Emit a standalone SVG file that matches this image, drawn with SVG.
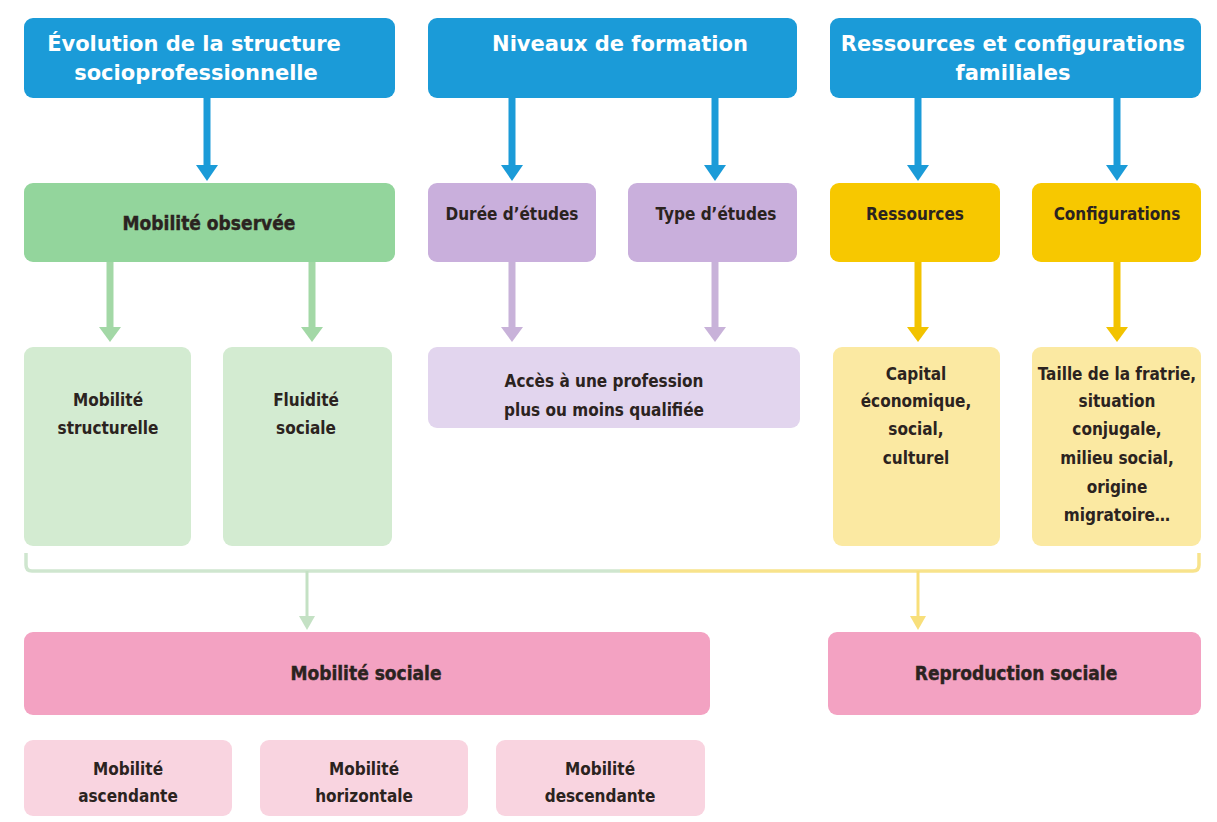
<svg xmlns="http://www.w3.org/2000/svg" width="1217" height="822" viewBox="0 0 1217 822">
<defs>
<style>
.t{font-family:"DejaVu Sans Condensed","DejaVu Sans","Liberation Sans",sans-serif;fill:#2b2320;text-anchor:middle;font-size:17px;font-weight:bold}
.b{font-size:19px;stroke:#2b2320;stroke-width:0.4}
.w{font-family:"DejaVu Sans","Liberation Sans",sans-serif;fill:#ffffff;font-weight:bold;font-size:21px;text-anchor:middle}
.blue{fill:#1b9bd8}
.g1{fill:#93d59c}
.g2{fill:#d3ebd1}
.p1{fill:#c9afdc}
.p2{fill:#e2d5ee}
.y1{fill:#f7c800}
.y2{fill:#fbe9a2}
.k1{fill:#f3a2c2}
.k2{fill:#f9d4e0}
</style>
</defs>

<g id="connectors">
  <!-- blue arrows -->
  <g stroke="#1b9bd8" stroke-width="7" fill="none">
    <line x1="207" y1="98" x2="207" y2="168"/>
    <line x1="512" y1="98" x2="512" y2="168"/>
    <line x1="715" y1="98" x2="715" y2="168"/>
    <line x1="918" y1="98" x2="918" y2="168"/>
    <line x1="1117" y1="98" x2="1117" y2="168"/>
  </g>
  <g fill="#1b9bd8">
    <polygon points="196,165 218,165 207,181"/>
    <polygon points="501,165 523,165 512,181"/>
    <polygon points="704,165 726,165 715,181"/>
    <polygon points="907,165 929,165 918,181"/>
    <polygon points="1106,165 1128,165 1117,181"/>
  </g>
  <!-- green arrows -->
  <g stroke="#a3d8a6" stroke-width="7">
    <line x1="110" y1="262" x2="110" y2="330"/>
    <line x1="312" y1="262" x2="312" y2="330"/>
  </g>
  <g fill="#a3d8a6">
    <polygon points="99,327 121,327 110,342"/>
    <polygon points="301,327 323,327 312,342"/>
  </g>
  <!-- purple arrows -->
  <g stroke="#c8b2d9" stroke-width="7">
    <line x1="512" y1="262" x2="512" y2="330"/>
    <line x1="715" y1="262" x2="715" y2="330"/>
  </g>
  <g fill="#c8b2d9">
    <polygon points="501,327 523,327 512,342"/>
    <polygon points="704,327 726,327 715,342"/>
  </g>
  <!-- yellow arrows -->
  <g stroke="#f2c300" stroke-width="7">
    <line x1="918" y1="262" x2="918" y2="330"/>
    <line x1="1117" y1="262" x2="1117" y2="330"/>
  </g>
  <g fill="#f2c300">
    <polygon points="907,327 929,327 918,342"/>
    <polygon points="1106,327 1128,327 1117,342"/>
  </g>
  <!-- bracket -->
  <path d="M26,553 L26,565 Q26,571 32,571 L620,571" stroke="#cfe6cf" stroke-width="3.5" fill="none"/>
  <path d="M620,571 L1193,571 Q1199,571 1199,565 L1199,553" stroke="#f8e38c" stroke-width="3.5" fill="none"/>
  <line x1="307" y1="571" x2="307" y2="620" stroke="#c4e1c4" stroke-width="3"/>
  <polygon points="299,616 315,616 307,630" fill="#c4e1c4"/>
  <line x1="918" y1="571" x2="918" y2="620" stroke="#f8df7a" stroke-width="3"/>
  <polygon points="910,616 926,616 918,630" fill="#f8df7a"/>
</g>

<g id="n-evolution">
  <rect class="blue" x="24" y="18" width="371" height="80" rx="9"/>
  <text class="w" x="194" y="51">Évolution de la structure</text>
  <text class="w" x="196" y="80">socioprofessionnelle</text>
</g>
<g id="n-niveaux">
  <rect class="blue" x="428" y="18" width="369" height="80" rx="9"/>
  <text class="w" x="620" y="51">Niveaux de formation</text>
</g>
<g id="n-ressources-config">
  <rect class="blue" x="830" y="18" width="371" height="80" rx="9"/>
  <text class="w" x="1013" y="51">Ressources et configurations</text>
  <text class="w" x="1013" y="80">familiales</text>
</g>

<g id="n-mob-observee">
  <rect class="g1" x="24" y="183" width="371" height="79" rx="9"/>
  <text class="t b" x="209" y="230">Mobilité observée</text>
</g>
<g id="n-duree">
  <rect class="p1" x="428" y="183" width="168" height="79" rx="9"/>
  <text class="t" x="512" y="220">Durée d’études</text>
</g>
<g id="n-type">
  <rect class="p1" x="628" y="183" width="169" height="79" rx="9"/>
  <text class="t" x="716" y="220">Type d’études</text>
</g>
<g id="n-ressources">
  <rect class="y1" x="830" y="183" width="170" height="79" rx="9"/>
  <text class="t" x="915" y="220">Ressources</text>
</g>
<g id="n-configurations">
  <rect class="y1" x="1032" y="183" width="169" height="79" rx="9"/>
  <text class="t" x="1117" y="220">Configurations</text>
</g>

<g id="n-mob-struct">
  <rect class="g2" x="24" y="347" width="167" height="199" rx="9"/>
  <text class="t" x="108" y="406">Mobilité</text>
  <text class="t" x="108" y="434">structurelle</text>
</g>
<g id="n-fluidite">
  <rect class="g2" x="223" y="347" width="169" height="199" rx="9"/>
  <text class="t" x="306" y="406">Fluidité</text>
  <text class="t" x="306" y="434">sociale</text>
</g>
<g id="n-acces">
  <rect class="p2" x="428" y="347" width="372" height="81" rx="9"/>
  <text class="t" x="604" y="387">Accès à une profession</text>
  <text class="t" x="604" y="416">plus ou moins qualifiée</text>
</g>
<g id="n-capital">
  <rect class="y2" x="833" y="347" width="167" height="199" rx="9"/>
  <text class="t" x="916" y="380">Capital</text>
  <text class="t" x="916" y="407">économique,</text>
  <text class="t" x="916" y="435">social,</text>
  <text class="t" x="916" y="464">culturel</text>
</g>
<g id="n-taille">
  <rect class="y2" x="1032" y="347" width="169" height="199" rx="9"/>
  <text class="t" x="1117" y="380">Taille de la fratrie,</text>
  <text class="t" x="1117" y="407">situation</text>
  <text class="t" x="1117" y="435">conjugale,</text>
  <text class="t" x="1117" y="464">milieu social,</text>
  <text class="t" x="1117" y="493">origine</text>
  <text class="t" x="1117" y="521">migratoire…</text>
</g>

<g id="n-mob-sociale">
  <rect class="k1" x="24" y="632" width="686" height="83" rx="9"/>
  <text class="t b" x="366" y="680">Mobilité sociale</text>
</g>
<g id="n-reproduction">
  <rect class="k1" x="828" y="632" width="373" height="83" rx="9"/>
  <text class="t b" x="1016" y="680">Reproduction sociale</text>
</g>

<g id="n-ascendante">
  <rect class="k2" x="24" y="740" width="208" height="76" rx="9"/>
  <text class="t" x="128" y="775">Mobilité</text>
  <text class="t" x="128" y="802">ascendante</text>
</g>
<g id="n-horizontale">
  <rect class="k2" x="260" y="740" width="208" height="76" rx="9"/>
  <text class="t" x="364" y="775">Mobilité</text>
  <text class="t" x="364" y="802">horizontale</text>
</g>
<g id="n-descendante">
  <rect class="k2" x="496" y="740" width="209" height="76" rx="9"/>
  <text class="t" x="600" y="775">Mobilité</text>
  <text class="t" x="600" y="802">descendante</text>
</g>
</svg>
